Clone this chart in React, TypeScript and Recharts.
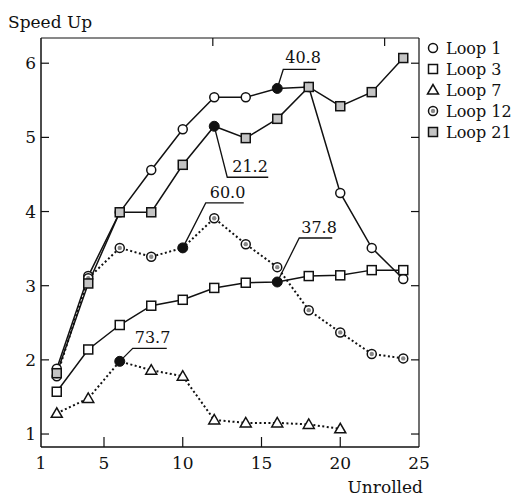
import React from 'react';
import { LineChart, Line, XAxis, YAxis, ReferenceDot } from 'recharts';

// ---------- data ----------
const unrolled = [2, 4, 6, 8, 10, 12, 14, 16, 18, 20, 22, 24];
const loop1 = [1.88, 3.13, 3.99, 4.56, 5.11, 5.54, 5.54, 5.66, 5.68, 4.25, 3.51, 3.09];
const loop3 = [1.57, 2.14, 2.47, 2.73, 2.81, 2.97, 3.04, 3.05, 3.13, 3.14, 3.21, 3.21];
const loop7 = [1.28, 1.48, 1.98, 1.86, 1.78, 1.19, 1.15, 1.15, 1.13, 1.07, null, null];
const loop12 = [1.78, 3.1, 3.51, 3.39, 3.51, 3.91, 3.56, 3.25, 2.67, 2.37, 2.08, 2.02];
const loop21 = [1.82, 3.03, 3.99, 3.99, 4.63, 5.15, 4.99, 5.25, 5.68, 5.42, 5.61, 6.07];

const seriesNames = ['Loop 1', 'Loop 3', 'Loop 7', 'Loop 12', 'Loop 21'];
const peakIndex = [7, 7, 2, 4, 5];
const peakLabels = ['40.8', '37.8', '73.7', '60.0', '21.2'];

const xTicks = [1, 5, 10, 15, 20, 25];
const xTopTicks = [5, 10, 15, 20];
const yTicks = [1, 2, 3, 4, 5, 6];
const xLabel = 'Unrolled';
const yLabel = 'Speed Up';

const allSeries = [loop1, loop3, loop7, loop12, loop21];
const keys = ['l1', 'l3', 'l7', 'l12', 'l21'];

const data = unrolled.map((u, i) => {
  const row: any = { u };
  keys.forEach((k, s) => (row[k] = allSeries[s][i]));
  return row;
});

// ---------- styles ----------
const FONT = "'DejaVu Serif', serif";
const INK = '#111';

type Kind = 'circle' | 'square' | 'triangle' | 'grayCircle' | 'graySquare';
const styles: { kind: Kind; dashed: boolean; lead: number[]; text: number[] }[] = [
  { kind: 'circle', dashed: false, lead: [6, -19, 39], text: [8, -25] },
  { kind: 'square', dashed: false, lead: [22, -44, 55], text: [24, -49] },
  { kind: 'triangle', dashed: true, lead: [13, -13, 47], text: [15, -18] },
  { kind: 'grayCircle', dashed: true, lead: [23, -45, 61], text: [27, -50] },
  { kind: 'graySquare', dashed: false, lead: [13, 51, 54], text: [18, 46] },
];

function Marker({ kind, cx, cy }: { kind: Kind; cx: number; cy: number }) {
  const sw = 1.5;
  switch (kind) {
    case 'circle':
      return <circle cx={cx} cy={cy} r={4.5} fill="#fff" stroke={INK} strokeWidth={sw} />;
    case 'grayCircle':
      return (
        <g>
          <circle cx={cx} cy={cy} r={4.5} fill="#fff" stroke={INK} strokeWidth={sw} />
          <circle cx={cx} cy={cy} r={2.2} fill="#888" />
        </g>
      );
    case 'square':
      return <rect x={cx - 4.5} y={cy - 4.5} width={9} height={9} fill="#fff" stroke={INK} strokeWidth={sw} />;
    case 'graySquare':
      return <rect x={cx - 4.5} y={cy - 4.5} width={9} height={9} fill="#c4c4c4" stroke={INK} strokeWidth={sw} />;
    case 'triangle':
      return (
        <polygon
          points={`${cx},${cy - 5.5} ${cx - 5.5},${cy + 4} ${cx + 5.5},${cy + 4}`}
          fill="#fff"
          stroke={INK}
          strokeWidth={sw}
        />
      );
  }
  return null;
}

const makeDot = (s: number) => (props: any) => {
  const { cx, cy, index } = props;
  if (cx == null || cy == null || props.value == null) return <g key={`d${s}-${index}`} />;
  if (index === peakIndex[s]) {
    return <circle key={`d${s}-${index}`} cx={cx} cy={cy} r={5} fill={INK} stroke={INK} />;
  }
  return (
    <g key={`d${s}-${index}`}>
      <Marker kind={styles[s].kind} cx={cx} cy={cy} />
    </g>
  );
};

const makeAnnotation = (s: number) => (props: any) => {
  const { cx, cy } = props;
  const [lx, ly, lx2] = styles[s].lead;
  const [tx, ty] = styles[s].text;
  return (
    <g>
      <polyline
        points={`${cx},${cy} ${cx + lx},${cy + ly} ${cx + lx2},${cy + ly}`}
        fill="none"
        stroke={INK}
        strokeWidth={1.3}
      />
      <text x={cx + tx} y={cy + ty} fontFamily={FONT} fontSize={16} fill={INK}>
        {peakLabels[s]}
      </text>
    </g>
  );
};

const BottomTick = (props: any) => {
  const { x, y, payload } = props;
  const inner = payload.value !== 1 && payload.value !== 25;
  return (
    <g>
      {inner && <line x1={x} y1={y} x2={x} y2={y - 10} stroke={INK} strokeWidth={1.2} />}
      <text x={x} y={y + 22} textAnchor="middle" fontFamily={FONT} fontSize={17} fill={INK}>
        {payload.value}
      </text>
    </g>
  );
};

const TopTick = (props: any) => {
  const { x, y } = props;
  return <line x1={x} y1={y} x2={x} y2={y + 8} stroke={INK} strokeWidth={1.2} />;
};

const LeftTick = (props: any) => {
  const { x, y, payload } = props;
  return (
    <g>
      <line x1={x} y1={y} x2={x + 8} y2={y} stroke={INK} strokeWidth={1.2} />
      <text x={x - 5} y={y + 6} textAnchor="end" fontFamily={FONT} fontSize={17} fill={INK}>
        {payload.value}
      </text>
    </g>
  );
};

const RightTick = (props: any) => {
  const { x, y } = props;
  return <line x1={x} y1={y} x2={x - 8} y2={y} stroke={INK} strokeWidth={1.2} />;
};

export default function App() {
  const yDomain = [0.825, 6.34];
  const xDomain = [1, 25];
  return (
    <div style={{ position: 'absolute', left: 0, top: 0, background: '#fff' }}>
      <LineChart width={517} height={496} data={data} margin={{ top: 0, right: 0, bottom: 0, left: 0 }}>
        <XAxis
          dataKey="u"
          type="number"
          domain={xDomain}
          ticks={xTicks}
          interval={0}
          height={49}
          tickSize={0}
          tickMargin={0}
          tickLine={false}
          allowDataOverflow
          axisLine={{ stroke: INK, strokeWidth: 1.5 }}
          tick={BottomTick}
        />
        <XAxis
          xAxisId="top"
          orientation="top"
          type="number"
          domain={xDomain}
          ticks={xTopTicks}
          interval={0}
          height={38}
          tickSize={0}
          tickMargin={0}
          tickLine={false}
          allowDataOverflow
          axisLine={{ stroke: INK, strokeWidth: 1 }}
          tick={TopTick}
        />
        <YAxis
          type="number"
          domain={yDomain}
          ticks={yTicks}
          interval={0}
          width={41}
          tickSize={0}
          tickMargin={0}
          tickLine={false}
          allowDataOverflow
          axisLine={{ stroke: INK, strokeWidth: 1.5 }}
          tick={LeftTick}
        />
        <YAxis
          yAxisId="right"
          orientation="right"
          type="number"
          domain={yDomain}
          ticks={yTicks}
          interval={0}
          width={98}
          tickSize={0}
          tickMargin={0}
          tickLine={false}
          allowDataOverflow
          axisLine={{ stroke: INK, strokeWidth: 1.2 }}
          tick={RightTick}
        />
        {keys.map((k, s) => (
          <Line
            key={k}
            dataKey={k}
            name={seriesNames[s]}
            type="linear"
            stroke={INK}
            strokeWidth={styles[s].dashed ? 2 : 1.5}
            strokeDasharray={styles[s].dashed ? '2 2.5' : undefined}
            dot={makeDot(s)}
            activeDot={false}
            connectNulls={false}
            isAnimationActive={false}
          />
        ))}
        {keys.map((k, s) => (
          <ReferenceDot
            key={`a${k}`}
            x={unrolled[peakIndex[s]]}
            y={allSeries[s][peakIndex[s]] as number}
            r={0}
            shape={makeAnnotation(s)}
          />
        ))}
        <text x={8} y={28} fontFamily={FONT} fontSize={17} fill={INK}>
          {yLabel}
        </text>
        <text x={423} y={493} textAnchor="end" fontFamily={FONT} fontSize={17} fill={INK}>
          {xLabel}
        </text>
        {seriesNames.map((n, s) => (
          <g key={`lg${s}`}>
            <Marker kind={styles[s].kind} cx={433} cy={48 + s * 21} />
            <text x={446} y={48 + s * 21 + 5.5} fontFamily={FONT} fontSize={16} fill={INK}>
              {n}
            </text>
          </g>
        ))}
      </LineChart>
    </div>
  );
}
